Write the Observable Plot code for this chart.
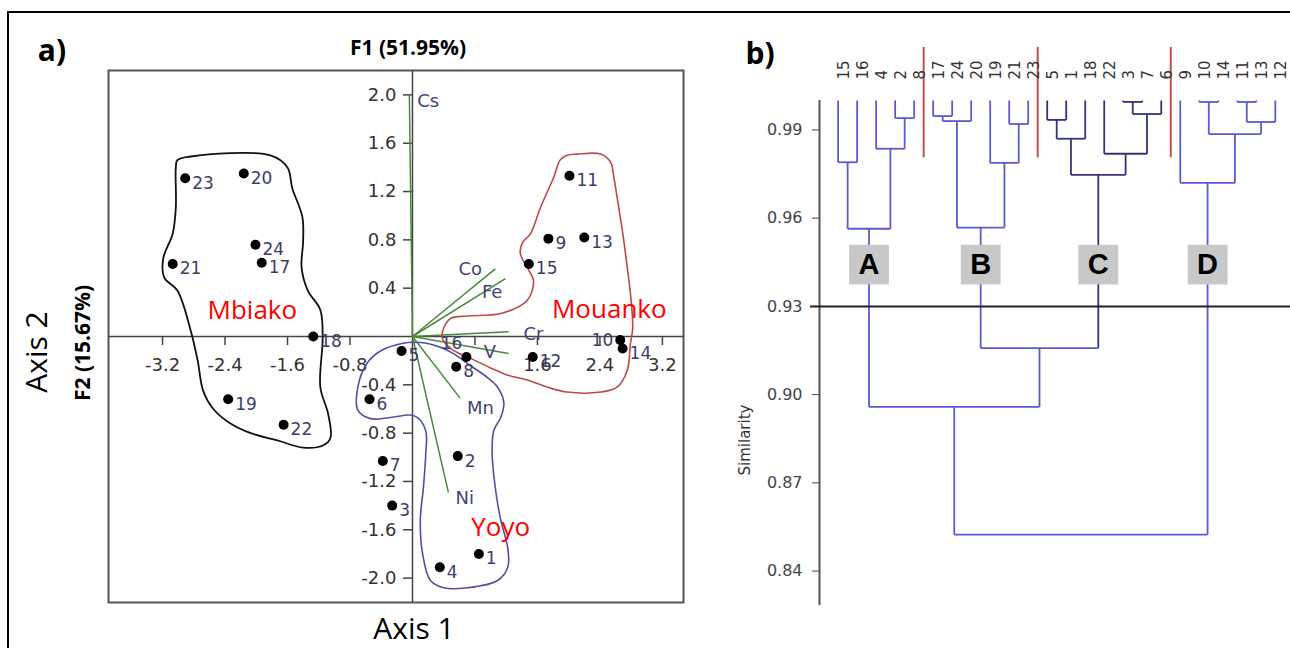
<!DOCTYPE html>
<html><head><meta charset="utf-8">
<script src="https://cdn.jsdelivr.net/npm/d3@7"></script>
<script src="https://cdn.jsdelivr.net/npm/@observablehq/plot@0.6"></script>
<style>
body{margin:0;background:#fff;width:1290px;height:648px;overflow:hidden;position:relative;font-family:"Open Sans",sans-serif}
#border{position:absolute;left:7px;top:11px;width:1300px;height:660px;border-top:2px solid #000;border-left:2px solid #000}
.lbl{position:absolute;transform:translate(-50%,-50%);white-space:nowrap;line-height:1;color:#000}
.rot{transform:translate(-50%,-50%) rotate(-90deg)}
#pa,#pb{position:absolute}
#pa{left:0;top:0}
#pb{left:720px;top:30px}
</style></head><body>
<div id="border"></div>
<div id="pa"></div><div id="pb"></div>
<div class="lbl" style="left:52px;top:50px;font-size:30px;font-weight:700">a)</div>
<div class="lbl" style="left:408px;top:47px;font-size:21px;font-weight:700">F1 (51.95%)</div>
<div class="lbl rot" style="left:82px;top:343px;font-size:21px;font-weight:700">F2 (15.67%)</div>
<div class="lbl rot" style="left:36px;top:352px;font-size:30px">Axis 2</div>
<div class="lbl" style="left:414px;top:628px;font-size:30px">Axis 1</div>
<div class="lbl" style="left:760px;top:53px;font-size:30px;font-weight:700">b)</div>
<div class="lbl rot" style="left:745px;top:440px;font-size:15px;font-family:'DejaVu Sans';color:#333">Similarity</div>
<script>
// ---------- Panel a: PCA biplot ----------
const sampleIds = ["1","2","3","4","5","6","7","8","9","10","11","12","13","14","15","16","17","18","19","20","21","22","23","24"];
const sampleF1 = [0.85,0.58,-0.26,0.35,-0.14,-0.55,-0.38,0.56,1.74,2.66,2.01,1.54,2.20,2.69,1.49,0.69,-1.93,-1.27,-2.36,-2.16,-3.07,-1.65,-2.91,-2.01];
const sampleF2 = [-1.80,-0.99,-1.40,-1.91,-0.12,-0.52,-1.03,-0.25,0.81,-0.03,1.33,-0.17,0.82,-0.10,0.60,-0.17,0.61,0.00,-0.52,1.35,0.60,-0.73,1.31,0.76];
const leftLabeled = ["10"];
const aboveLabeled = ["16"];

const varNames = ["Cs","Co","Fe","Cr","V","Mn","Ni"];
const varF1 = [-0.04,1.06,1.19,1.23,1.23,0.61,0.46];
const varF2 = [2.00,0.56,0.48,0.04,-0.14,-0.51,-1.29];
const varLabelF1 = [0.20,0.74,1.02,1.55,0.99,0.87,0.67];
const varLabelF2 = [1.95,0.56,0.37,0.02,-0.13,-0.59,-1.34];

const groupNames = ["Mbiako","Mouanko","Yoyo"];
const groupF1 = [-2.05,2.52,1.13];
const groupF2 = [0.21,0.22,-1.58];

const mbiakoContour = [[-3.01,1.46],[-2.84,1.49],[-1.82,1.50],[-1.60,1.40],[-1.54,1.23],[-1.41,0.99],[-1.40,0.79],[-1.42,0.57],[-1.34,0.38],[-1.18,0.22],[-1.15,-0.01],[-1.18,-0.42],[-1.08,-0.64],[-1.05,-0.84],[-1.14,-0.90],[-1.40,-0.92],[-1.73,-0.86],[-2.07,-0.80],[-2.33,-0.72],[-2.55,-0.60],[-2.68,-0.45],[-2.75,-0.20],[-2.84,0.05],[-3.01,0.38],[-3.18,0.49],[-3.19,0.65],[-3.07,0.85],[-3.03,1.07],[-3.03,1.40]];
const mouankoContour = [[1.98,1.50],[2.11,1.51],[2.41,1.51],[2.54,1.44],[2.57,1.35],[2.64,1.07],[2.70,0.82],[2.75,0.57],[2.79,0.36],[2.82,0.07],[2.79,-0.06],[2.75,-0.28],[2.62,-0.42],[2.41,-0.46],[1.98,-0.46],[1.73,-0.42],[1.47,-0.36],[1.22,-0.32],[1.00,-0.26],[0.74,-0.18],[0.49,-0.10],[0.38,-0.01],[0.40,0.07],[0.49,0.15],[0.70,0.17],[1.13,0.19],[1.47,0.30],[1.55,0.46],[1.47,0.57],[1.38,0.69],[1.41,0.78],[1.51,0.85],[1.64,1.07],[1.81,1.32],[1.89,1.46]];
const yoyoContour = [[-0.15,-0.06],[-0.41,-0.12],[-0.58,-0.22],[-0.70,-0.42],[-0.70,-0.61],[-0.54,-0.68],[-0.28,-0.67],[-0.03,-0.65],[0.06,-0.67],[0.17,-0.78],[0.17,-0.97],[0.14,-1.25],[0.10,-1.52],[0.13,-1.80],[0.23,-2.02],[0.40,-2.08],[0.70,-2.08],[1.09,-2.02],[1.22,-1.91],[1.22,-1.75],[1.13,-1.52],[1.06,-1.25],[1.02,-0.97],[1.04,-0.78],[1.13,-0.67],[1.17,-0.55],[1.09,-0.42],[0.96,-0.34],[0.74,-0.24],[0.52,-0.14],[0.36,-0.09],[0.10,-0.05]];

const xTicks = [-3.2,-2.4,-1.6,-0.8,0.8,1.6,2.4,3.2];
const xTickLabels = [-3.2,-2.4,-1.6,-0.8,1.6,2.4,3.2];
const yTicks = [-2.0,-1.6,-1.2,-0.8,-0.4,0.4,0.8,1.2,1.6,2.0];

const fmt1 = d => d.toFixed(1);
const samples = sampleIds.map((id,i)=>({id, x:sampleF1[i], y:sampleF2[i]}));
const vectors = varNames.map((n,i)=>({n, x:varF1[i], y:varF2[i], lx:varLabelF1[i], ly:varLabelF2[i]}));
const groups = groupNames.map((n,i)=>({n, x:groupF1[i], y:groupF2[i]}));
const toPts = c => c.map(([x,y])=>({x,y}));
const rightSamples = samples.filter(d=>!leftLabeled.includes(d.id) && !aboveLabeled.includes(d.id));

const pa = Plot.plot({
  width:700, height:648, marginLeft:108, marginRight:17, marginTop:70, marginBottom:46,
  x:{domain:[-3.892,3.470], axis:null},
  y:{domain:[-2.202,2.202], axis:null},
  style:{fontFamily:"DejaVu Sans", background:"transparent", overflow:"visible"},
  marks:[
    Plot.frame({stroke:"#555", strokeWidth:2}),
    Plot.ruleY([0],{stroke:"#444", strokeWidth:1.5}),
    Plot.ruleX([0],{stroke:"#444", strokeWidth:1.5}),
    Plot.ruleX(xTicks,{x:d=>d, y1:0, y2:0, insetBottom:-9, stroke:"#444", strokeWidth:1.5}),
    Plot.ruleY(yTicks,{y:d=>d, x1:0, x2:0, insetLeft:-9, stroke:"#444", strokeWidth:1.5}),
    Plot.text(xTickLabels,{x:d=>d, y:0, dy:29, text:fmt1, fontSize:18, fill:"#333"}),
    Plot.text(yTicks,{x:0, y:d=>d, dx:-16, textAnchor:"end", text:fmt1, fontSize:18, fill:"#333"}),
    Plot.link(vectors,{x1:0, y1:0, x2:"x", y2:"y", stroke:"#4a8a3a", strokeWidth:1.5}),
    Plot.line(toPts(mbiakoContour),{x:"x", y:"y", curve:"catmull-rom-closed", stroke:"#111", strokeWidth:1.8}),
    Plot.line(toPts(mouankoContour),{x:"x", y:"y", curve:"catmull-rom-closed", stroke:"#c04848", strokeWidth:1.6}),
    Plot.line(toPts(yoyoContour),{x:"x", y:"y", curve:"catmull-rom-closed", stroke:"#5050a8", strokeWidth:1.6}),
    Plot.dot(samples,{x:"x", y:"y", r:5, fill:"#000"}),
    Plot.text(rightSamples,{x:"x", y:"y", text:"id", dx:7, dy:5, textAnchor:"start", fontSize:17, fill:"#3d3d6b"}),
    Plot.text(samples.filter(d=>leftLabeled.includes(d.id)),{x:"x", y:"y", text:"id", dx:-7, dy:0, textAnchor:"end", fontSize:17, fill:"#3d3d6b"}),
    Plot.text(samples.filter(d=>aboveLabeled.includes(d.id)),{x:"x", y:"y", text:"id", dx:-4, dy:-13, textAnchor:"end", fontSize:17, fill:"#3d3d6b"}),
    Plot.text(vectors,{x:"lx", y:"ly", text:"n", fontSize:18, fill:"#44447a"}),
    Plot.text(groups,{x:"x", y:"y", text:"n", fontSize:26, fontFamily:"Open Sans", fill:"#ff0000"})
  ]
});
document.getElementById("pa").appendChild(pa);

// ---------- Panel b: dendrogram ----------
const leafOrder = ["15","16","4","2","8","17","24","20","19","21","23","5","1","18","22","3","7","6","9","10","14","11","13","12"];
const mergeIds   = ["m1","m2","m3","A","m4","m5","m6","m7","B","m8","m9","m10","m11","m12","C","m13","m14","m15","m16","D","BC","ABC","root"];
const mergeLeft  = ["2","15","4","m2","17","m4","21","19","m5","5","m8","3","m10","22","m9","10","11","m14","m13","9","B","A","ABC"];
const mergeRight = ["8","16","m1","m3","24","20","23","m6","m7","1","18","7","6","m11","m12","14","13","12","m15","m16","C","BC","D"];
const mergeSim   = [0.994,0.979,0.9836,0.9564,0.9947,0.993,0.992,0.9788,0.9568,0.9934,0.987,0.9995,0.9954,0.9819,0.9747,0.9995,0.9995,0.9927,0.9886,0.972,0.9158,0.8958,0.8524];
const clusterNames = ["A","B","C","D"];
const darkClusters = ["C"];
const cutSimilarity = 0.93;
const simTicks = [0.84,0.87,0.90,0.93,0.96,0.99];

const xDomainB = [-0.98, 23.8];
const leafTop = 1.0;
const boxSim = 0.9442;

const pos = new Map();
const children = new Map();
leafOrder.forEach((id,i)=>pos.set(id,{x:i, y:leafTop}));
mergeIds.forEach((id,k)=>children.set(id,[mergeLeft[k],mergeRight[k]]));
const darkSet = new Set();
const markDark = id => { darkSet.add(id); (children.get(id)||[]).forEach(markDark); };
darkClusters.forEach(markDark);
const leavesOf = id => children.has(id) ? children.get(id).flatMap(leavesOf) : [id];

const segs = [];
mergeIds.forEach((id,k)=>{
  const a = pos.get(mergeLeft[k]), b = pos.get(mergeRight[k]), s = mergeSim[k];
  const ca = darkSet.has(mergeLeft[k]) ? "#34347a" : "#5a5ad2";
  const cb = darkSet.has(mergeRight[k]) ? "#34347a" : "#5a5ad2";
  const ch = darkSet.has(id) ? "#34347a" : "#5a5ad2";
  segs.push({x1:a.x, y1:a.y, x2:a.x, y2:s, c:ca});
  segs.push({x1:b.x, y1:b.y, x2:b.x, y2:s, c:cb});
  segs.push({x1:a.x, y1:s, x2:b.x, y2:s, c:ch});
  pos.set(id,{x:(a.x+b.x)/2, y:s});
});
const clusterNodes = clusterNames.map(n=>({name:n, x:pos.get(n).x}));
const separators = clusterNames.slice(0,-1).map(n=>{
  const idx = leavesOf(n).map(l=>leafOrder.indexOf(l));
  return Math.max(...idx) + 0.5;
});

const pb = Plot.plot({
  width:570, height:595, marginLeft:99, marginRight:0, marginTop:70, marginBottom:20,
  x:{domain:xDomainB, axis:null},
  y:{domain:[0.8283, leafTop], ticks:simTicks, tickFormat:d=>d.toFixed(2), tickSize:7, tickPadding:10, label:null},
  color:{type:"identity"},
  style:{fontFamily:"DejaVu Sans", fontSize:"16px", color:"#444", background:"transparent", overflow:"visible"},
  marks:[
    Plot.ruleX([xDomainB[0]],{stroke:"#555", strokeWidth:2}),
    Plot.ruleX(separators,{x:d=>d, y1:leafTop, y2:0.9805, insetTop:-53, stroke:"#c0504d", strokeWidth:2}),
    Plot.link(segs,{x1:"x1", y1:"y1", x2:"x2", y2:"y2", stroke:"c", strokeWidth:1.8}),
    Plot.ruleY([cutSimilarity],{stroke:"#222", strokeWidth:2, insetLeft:-9}),
    Plot.dot(clusterNodes,{x:"x", y:()=>boxSim, symbol:"square", r:22.5, fill:"#c8c8c8", stroke:"none"}),
    Plot.text(clusterNodes,{x:"x", y:()=>boxSim, text:"name", fontSize:29, fontWeight:"bold", fontFamily:"Liberation Sans", fill:"#000"}),
    Plot.text(leafOrder,{x:(d,i)=>i, frameAnchor:"top", dy:-21, text:d=>d, rotate:-90, textAnchor:"start", fontSize:15, fill:"#333"})
  ]
});
document.getElementById("pb").appendChild(pb);
</script>
</body></html>
